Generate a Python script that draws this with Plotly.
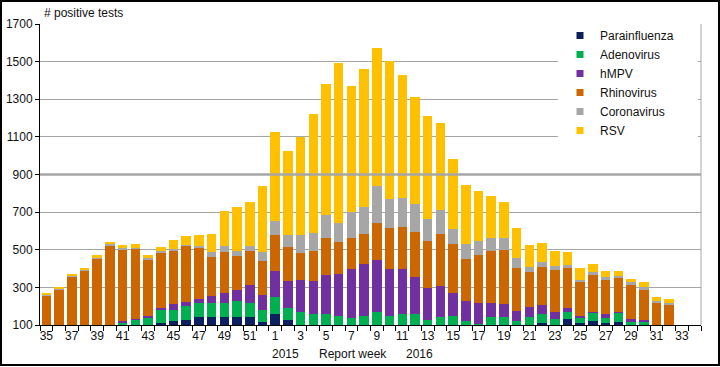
import plotly.graph_objects as go

weeks = ["35", "36", "37", "38", "39", "40", "41", "42", "43", "44", "45", "46", "47", "48",
         "49", "50", "51", "52", "1", "2", "3", "4", "5", "6", "7", "8", "9", "10", "11", "12",
         "13", "14", "15", "16", "17", "18", "19", "20", "21", "22", "23", "24", "25", "26",
         "27", "28", "29", "30", "31", "32", "33", "34"]

parainfluenza = [30, 35, 45, 55, 65, 75, 80, 85, 90, 109, 123, 128, 144, 144,
                 140, 144, 144, 115, 160, 124, 90, 90, 90, 85, 80, 85, 90, 85, 85, 85,
                 80, 85, 85, 80, 75, 85, 85, 80, 100, 112, 95, 134, 109, 121,
                 112, 118, 98, 95, 60, 55, 20, None]
adenovirus = [25, 25, 25, 25, 25, 20, 32, 42, 46, 73, 59, 75, 72, 72,
              75, 81, 72, 63, 87, 69, 80, 68, 70, 63, 58, 65, 77, 65, 73, 73,
              46, 57, 62, 41, 29, 58, 58, 40, 44, 49, 35, 35, 27, 45,
              27, 48, 23, 23, 20, 20, 15, None]
hmpv = [3, 3, 3, 3, 3, 2, 8, 6, 14, 7, 29, 18, 20, 36,
        57, 59, 96, 84, 138, 139, 167, 174, 208, 225, 260, 274, 279, 248, 240, 195,
        170, 165, 125, 104, 115, 76, 71, 55, 51, 44, 39, 24, 12, 3,
        18, 3, 9, 7, 10, 10, 5, None]
rhinovirus = [199, 224, 285, 309, 361, 426, 383, 371, 298, 295, 285, 299, 278, 212,
              217, 184, 183, 180, 195, 181, 144, 163, 192, 167, 167, 162, 194, 220, 224, 244,
              252, 279, 261, 224, 254, 275, 287, 230, 188, 201, 223, 210, 178, 198,
              183, 180, 184, 162, 129, 120, 30, None]
coronavirus = [5, 7, 4, 4, 4, 8, 7, 6, 6, 8, 9, 5, 8, 25,
               29, 27, 27, 47, 74, 64, 96, 93, 124, 104, 138, 143, 197, 151, 153, 144,
               118, 125, 76, 82, 74, 69, 62, 52, 24, 27, 20, 14, 14, 16,
               16, 13, 12, 16, 6, 11, 2, None]
rsv = [5, 5, 5, 7, 16, 6, 14, 19, 16, 24, 45, 47, 54, 95,
       188, 234, 234, 352, 470, 450, 522, 632, 699, 849, 668, 734, 733, 735, 653, 570,
       545, 465, 373, 315, 263, 222, 192, 158, 120, 105, 83, 71, 61, 39,
       33, 27, 20, 25, 25, 23, 2, None]

series = [
    ("Parainfluenza", parainfluenza, "#0C1F5E"),
    ("Adenovirus", adenovirus, "#00B050"),
    ("hMPV", hmpv, "#7030A0"),
    ("Rhinovirus", rhinovirus, "#CC6600"),
    ("Coronavirus", coronavirus, "#A6A6A6"),
    ("RSV", rsv, "#FFC000"),
]

tick_text = [w if int(w) % 2 == 1 else "" for w in weeks]

FONT = "Arial, Liberation Sans, sans-serif"
W, H = 720, 367
L, R, T, B = 40, 19, 24, 42
PW, PH = W - L - R, H - T - B


def px_x(p):
    return (p - L) / PW


def px_y(p):
    return (H - B - p) / PH


fig = go.Figure()
for name, vals, col in series:
    fig.add_trace(go.Bar(x=weeks, y=vals, name=name, marker_color=col,
                         marker_line_width=0, showlegend=False, legendgroup=name))
for name, vals, col in series:
    fig.add_trace(go.Scatter(x=[None], y=[None], mode="markers", name=name,
                             marker=dict(symbol="square", size=7, color=col),
                             legendgroup=name, showlegend=True))

fig.update_layout(
    width=W, height=H,
    margin=dict(l=L, r=R, t=T, b=B, autoexpand=False),
    paper_bgcolor="white", plot_bgcolor="white",
    barmode="stack", bargap=0.25,
    font=dict(family=FONT, size=12, color="#111111"),
    xaxis=dict(type="category", categoryorder="array", categoryarray=weeks,
               tickmode="array", tickvals=weeks, ticktext=tick_text, tickangle=0,
               automargin=False,
               tickson="boundaries", ticks="outside", ticklen=5, tickcolor="black",
               showline=True, linecolor="black", linewidth=1, showgrid=False,
               range=[-0.5, len(weeks) - 0.5], tickfont=dict(size=12)),
    yaxis=dict(range=[100, 1700], tick0=100, dtick=200, showgrid=True, automargin=False,
               gridcolor="#A6A6A6", gridwidth=1, showline=True, linecolor="black",
               linewidth=1, ticks="outside", ticklen=4, tickcolor="black",
               zeroline=False, tickfont=dict(size=12)),
    legend=dict(x=px_x(560), xanchor="left", y=px_y(21), yanchor="top",
                bgcolor="rgba(0,0,0,0)", traceorder="normal", itemwidth=30,
                font=dict(size=12), tracegroupgap=0),
    annotations=[
        dict(text="# positive tests", xref="paper", yref="paper", x=px_x(42), y=px_y(13),
             xanchor="left", yanchor="middle", showarrow=False, font=dict(size=12)),
        dict(text="2015", xref="paper", yref="paper", x=px_x(285), y=px_y(354),
             xanchor="center", yanchor="middle", showarrow=False, font=dict(size=12)),
        dict(text="Report week", xref="paper", yref="paper", x=px_x(353), y=px_y(354),
             xanchor="center", yanchor="middle", showarrow=False, font=dict(size=12)),
        dict(text="2016", xref="paper", yref="paper", x=px_x(420), y=px_y(354),
             xanchor="center", yanchor="middle", showarrow=False, font=dict(size=12)),
    ],
    shapes=[
        dict(type="rect", xref="paper", yref="y", x0=px_x(558), x1=px_x(698),
             y0=905, y1=1695, fillcolor="white", line=dict(width=0), layer="above"),
        dict(type="line", xref="paper", yref="y", x0=0, x1=1, y0=900, y1=900,
             line=dict(color="#A6A6A6", width=2.5), layer="above"),
        dict(type="line", xref="paper", yref="paper", x0=1, x1=1, y0=0, y1=1,
             line=dict(color="#A6A6A6", width=1), layer="above"),
        dict(type="rect", xref="paper", yref="paper", x0=px_x(1), x1=px_x(719),
             y0=px_y(365), y1=px_y(1), line=dict(color="black", width=2),
             fillcolor="rgba(0,0,0,0)", layer="above"),
    ],
)

fig.write_html("out.html", config={"displayModeBar": False},
               post_script="document.body.style.margin='0';document.body.style.overflow='hidden';")
